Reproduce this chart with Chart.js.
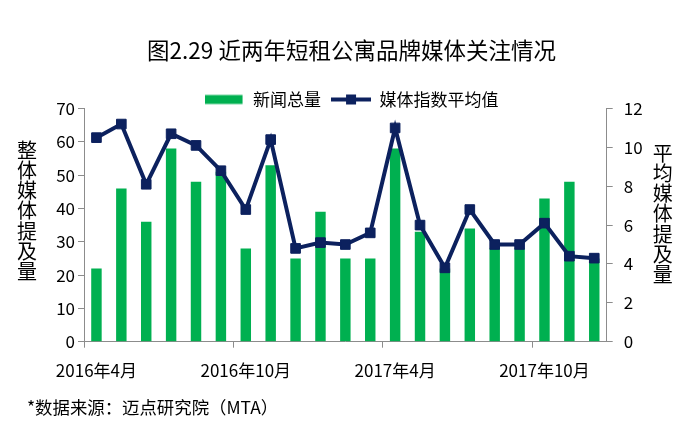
<!DOCTYPE html>
<html>
<head>
<meta charset="utf-8">
<script src="https://cdn.jsdelivr.net/npm/chart.js@4.4.1/dist/chart.umd.min.js"></script>
<style>
  html, body { margin: 0; padding: 0; background: #fff; }
  #wrap { width: 693px; height: 428px; }
</style>
</head>
<body>
<div id="wrap"><canvas id="chart" width="693" height="428"></canvas></div>
<script>
// months, 2016-04 .. 2017-12
const months = [
  '2016年4月', '2016年5月', '2016年6月', '2016年7月', '2016年8月', '2016年9月',
  '2016年10月', '2016年11月', '2016年12月', '2017年1月', '2017年2月', '2017年3月',
  '2017年4月', '2017年5月', '2017年6月', '2017年7月', '2017年8月', '2017年9月',
  '2017年10月', '2017年11月', '2017年12月'
];
// 新闻总量 (left axis)
const newsTotal = [22, 46, 36, 58, 48, 51, 28, 53, 25, 39, 25, 25, 58, 33, 22, 34, 28, 28, 43, 48, 25];
// 媒体指数平均值 (right axis)
const mediaIndexAvg = [10.5, 11.2, 8.1, 10.7, 10.1, 8.8, 6.8, 10.4, 4.8, 5.1, 5.0, 5.6, 11.0, 6.0, 3.8, 6.8, 5.0, 5.0, 6.1, 4.4, 4.3];
// axis ranges
const leftAxis = [0, 70, 10];   // min, max, step
const rightAxis = [0, 12, 2];
const labelEvery = 6;

const GREEN = '#00b050';
const NAVY = '#0c215e';
const AXIS = '#8c8c8c';
const FONT = '"Noto Sans CJK SC", "Noto Sans", sans-serif';

// legend swatches: green block / line with square marker
function swatch(kind) {
  const c = document.createElement('canvas');
  c.width = 40;
  c.height = 12;
  const g = c.getContext('2d');
  if (kind === 'bar') {
    g.fillStyle = GREEN;
    g.fillRect(0, 1.5, 38, 9);
  } else {
    g.strokeStyle = NAVY;
    g.lineWidth = 4;
    g.beginPath();
    g.moveTo(0, 6);
    g.lineTo(40, 6);
    g.stroke();
    g.fillStyle = NAVY;
    g.fillRect(15, 1, 10, 10);
  }
  return c;
}
const swatches = [swatch('bar'), swatch('line')];

// vertical axis titles and source note
const extraText = {
  id: 'extraText',
  afterDraw(chart) {
    const ctx = chart.ctx;
    const area = chart.chartArea;
    ctx.save();
    ctx.fillStyle = '#000';
    ctx.textAlign = 'center';
    ctx.textBaseline = 'middle';
    ctx.font = '20px ' + FONT;
    [...'整体媒体提及量'].forEach((ch, i) => ctx.fillText(ch, area.left - 57, 150 + i * 20.3));
    [...'平均媒体提及量'].forEach((ch, i) => ctx.fillText(ch, area.right + 56, 153 + i * 20.3));
    ctx.textAlign = 'left';
    ctx.font = '17.4px ' + FONT;
    ctx.fillText('*数据来源：迈点研究院（MTA）', 27, 407);
    ctx.restore();
  }
};

const tickOnly = (ctx) => (ctx.index !== undefined && ctx.index % labelEvery === 0) ? AXIS : 'rgba(0,0,0,0)';

new Chart(document.getElementById('chart'), {
  data: {
    labels: months,
    datasets: [
      {
        type: 'bar',
        label: '新闻总量',
        data: newsTotal,
        backgroundColor: GREEN,
        yAxisID: 'y',
        categoryPercentage: 1,
        barPercentage: 0.42,
        order: 2
      },
      {
        type: 'line',
        label: '媒体指数平均值',
        data: mediaIndexAvg,
        borderColor: NAVY,
        backgroundColor: NAVY,
        borderWidth: 4,
        tension: 0,
        pointStyle: 'rect',
        pointRadius: 6.8,
        pointBorderWidth: 1,
        pointBackgroundColor: NAVY,
        pointBorderColor: NAVY,
        yAxisID: 'y1',
        order: 1
      }
    ]
  },
  options: {
    responsive: false,
    animation: false,
    layout: { padding: { left: 10, right: 0, top: 0, bottom: 0 } },
    plugins: {
      tooltip: { enabled: false },
      title: {
        display: true,
        text: '图2.29 近两年短租公寓品牌媒体关注情况',
        color: '#000',
        font: { family: FONT, size: 22.5, weight: 'normal' },
        padding: { top: 37, bottom: 17 }
      },
      legend: {
        display: true,
        position: 'top',
        maxHeight: 27.5,
        labels: {
          color: '#000',
          font: { family: FONT, size: 17 },
          usePointStyle: true,
          pointStyleWidth: 40,
          padding: 10,
          generateLabels: (chart) => chart.data.datasets.map((ds, i) => ({
            text: ds.label,
            pointStyle: swatches[i],
            fillStyle: 'rgba(0,0,0,0)',
            strokeStyle: 'rgba(0,0,0,0)',
            lineWidth: 0,
            hidden: false,
            datasetIndex: i
          }))
        }
      }
    },
    scales: {
      x: {
        type: 'category',
        offset: true,
        afterFit: (scale) => { scale.height = 86.3; },
        border: { display: true, color: AXIS, width: 1 },
        grid: {
          offset: true,
          drawOnChartArea: false,
          drawTicks: true,
          tickLength: 6,
          color: tickOnly,
          tickColor: tickOnly
        },
        ticks: {
          autoSkip: false,
          maxRotation: 0,
          padding: 13,
          color: '#000',
          font: { family: FONT, size: 17 },
          callback: function (value, index) {
            return index % labelEvery === 0 ? this.getLabelForValue(value) : '';
          }
        }
      },
      y: {
        position: 'left',
        min: leftAxis[0],
        max: leftAxis[1],
        afterFit: (scale) => { scale.width = 74; },
        border: { display: true, color: AXIS, width: 1 },
        grid: { drawOnChartArea: false, drawTicks: true, tickLength: 6, color: AXIS },
        ticks: {
          stepSize: leftAxis[2],
          padding: 3,
          color: '#000',
          font: { family: FONT, size: 17 }
        }
      },
      y1: {
        position: 'right',
        min: rightAxis[0],
        max: rightAxis[1],
        afterFit: (scale) => { scale.width = 86.3; },
        border: { display: true, color: AXIS, width: 1 },
        grid: { drawOnChartArea: false, drawTicks: true, tickLength: 6, color: AXIS },
        ticks: {
          stepSize: rightAxis[2],
          padding: 11,
          color: '#000',
          font: { family: FONT, size: 17 }
        }
      }
    }
  },
  plugins: [extraText]
});
</script>
</body>
</html>
